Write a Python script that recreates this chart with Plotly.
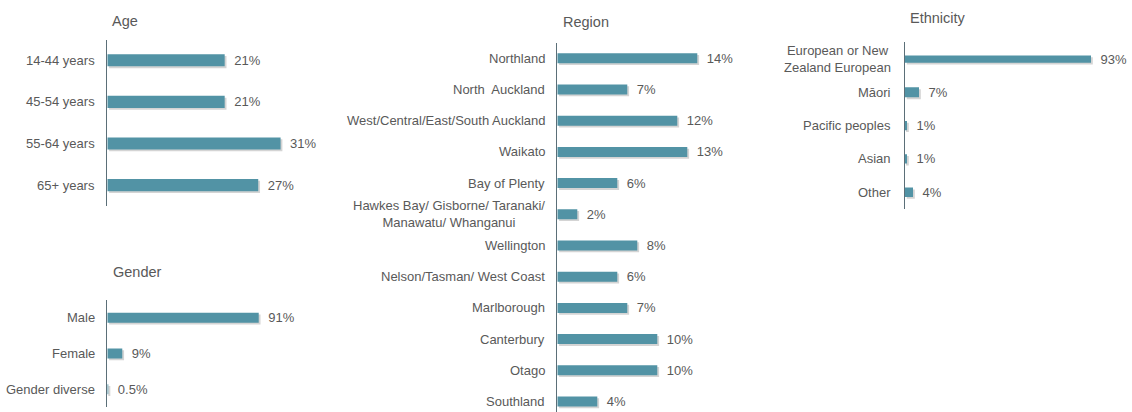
import plotly.graph_objects as go

W, H = 1132, 412

# ---- data -------------------------------------------------------------
age_labels = ["14-44 years", "45-54 years", "55-64 years", "65+ years"]
age_values = [21, 21, 31, 27]

gender_labels = ["Male", "Female", "Gender diverse"]
gender_values = [91, 9, 0.5]

region_labels = [
    "Northland",
    "North  Auckland",
    "West/Central/East/South Auckland",
    "Waikato",
    "Bay of Plenty",
    "Hawkes Bay/ Gisborne/ Taranaki/<br>Manawatu/ Whanganui",
    "Wellington",
    "Nelson/Tasman/ West Coast",
    "Marlborough",
    "Canterbury",
    "Otago",
    "Southland",
]
region_values = [14, 7, 12, 13, 6, 2, 8, 6, 7, 10, 10, 4]

ethnicity_labels = [
    "European or New<br>Zealand European",
    "Māori",
    "Pacific peoples",
    "Asian",
    "Other",
]
ethnicity_values = [93, 7, 1, 1, 4]

# ---- styling ----------------------------------------------------------
BAR = "#5293a5"
SHADOW = "#d4d4d4"
TEXT = "#595959"
AXIS = "#5b6f78"
FONT = "Liberation Sans, Arial, sans-serif"
FS = 13

# panel geometry in pixels: axis x, plot right edge, px per percent,
# top of axis, row spacing, bottom of axis, bar thickness, label gap, title pos
panels = [
    dict(title="Age", labels=age_labels, values=age_values,
         x0=107.3, x1=330, scale=5.59, y0=39.5, step=41.6, y1=205.5,
         width=0.29, gap=10, tpos=(110, 21)),
    dict(title="Gender", labels=gender_labels, values=gender_values,
         x0=107.3, x1=330, scale=1.664, y0=299.8, step=35.8, y1=407.2,
         width=0.28, gap=10, tpos=(111, 271.5)),
    dict(title="Region", labels=region_labels, values=region_values,
         x0=557.3, x1=800, scale=10.0, y0=42.7, step=31.2, y1=412,
         width=0.32, gap=10, tpos=(561, 22)),
    dict(title="Ethnicity", labels=ethnicity_labels, values=ethnicity_values,
         x0=905, x1=1132, scale=2.0, y0=42.4, step=33.3, y1=209,
         width=[0.22, 0.3, 0.28, 0.28, 0.28], gap=12, tpos=(908, 18)),
]

SHADOW_PX = 1.8  # drop-shadow offset right and down

fig = go.Figure()
layout = dict(
    width=W, height=H,
    margin=dict(l=0, r=0, t=0, b=0),
    paper_bgcolor="white", plot_bgcolor="white",
    showlegend=False, barmode="overlay",
    font=dict(family=FONT, size=FS, color=TEXT),
    annotations=[],
)

for i, p in enumerate(panels, start=1):
    xa = "x" if i == 1 else f"x{i}"
    ya = "y" if i == 1 else f"y{i}"
    n = len(p["labels"])
    idx = list(range(n))
    widths = p["width"] if isinstance(p["width"], list) else [p["width"]] * n
    dy = SHADOW_PX / p["step"]
    dx = SHADOW_PX / p["scale"]

    # soft shadow under each bar
    fig.add_trace(go.Bar(
        x=p["values"], y=idx, orientation="h",
        xaxis=xa, yaxis=ya,
        width=widths, offset=[-w / 2 + dy for w in widths],
        base=dx,
        marker=dict(color=SHADOW, line=dict(width=0)),
        hoverinfo="skip",
    ))
    fig.add_trace(go.Bar(
        x=p["values"], y=idx, orientation="h",
        xaxis=xa, yaxis=ya,
        width=widths,
        marker=dict(color=BAR, line=dict(width=0)),
        text=["\u2002" + f"{v:g}%" for v in p["values"]],
        textposition="outside",
        constraintext="none",
        cliponaxis=False,
        textfont=dict(family=FONT, size=FS, color=TEXT),
        hoverinfo="skip",
    ))

    xdom = [p["x0"] / W, p["x1"] / W]
    ydom = [1 - p["y1"] / H, 1 - p["y0"] / H]
    rng_bottom = -0.5 + (p["y1"] - p["y0"]) / p["step"]
    xmax = (p["x1"] - p["x0"]) / p["scale"]

    layout["xaxis" if i == 1 else f"xaxis{i}"] = dict(
        domain=xdom, range=[0, xmax], anchor=ya,
        showgrid=False, zeroline=False, showticklabels=False,
        showline=False, fixedrange=True,
    )
    layout["yaxis" if i == 1 else f"yaxis{i}"] = dict(
        domain=ydom, range=[rng_bottom, -0.5], anchor=xa,
        showgrid=False, zeroline=False, showticklabels=False,
        showline=True, linecolor=AXIS, linewidth=1, fixedrange=True,
    )

    # category labels, centred line-by-line and right-aligned to the axis
    for j, lab in enumerate(p["labels"]):
        layout["annotations"].append(dict(
            text=lab, xref=f"{xa} domain", yref=ya,
            x=0, y=j, xanchor="right", yanchor="middle",
            xshift=-p["gap"], align="center", showarrow=False,
            font=dict(family=FONT, size=FS, color=TEXT),
        ))

    # panel title
    tx, ty = p["tpos"]
    layout["annotations"].append(dict(
        text=p["title"], xref="paper", yref="paper",
        x=tx / W, y=1 - ty / H, xanchor="left", yanchor="middle",
        showarrow=False, font=dict(family=FONT, size=14.5, color=TEXT),
    ))

fig.update_layout(**layout)
fig.write_html("out.html")
